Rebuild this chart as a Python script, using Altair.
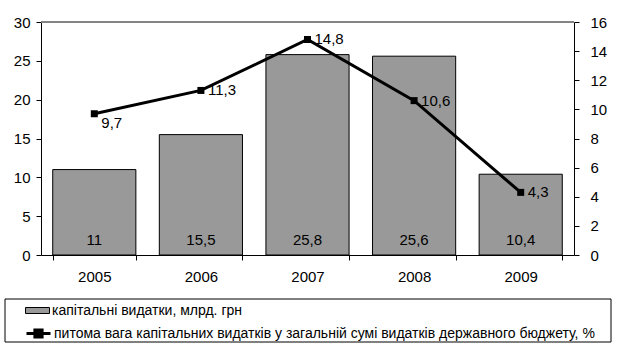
import altair as alt
import pandas as pd

years = ["2005", "2006", "2007", "2008", "2009"]
capital = [11, 15.5, 25.8, 25.6, 10.4]
share = [9.7, 11.3, 14.8, 10.6, 4.3]
series_bar = "капітальні видатки, млрд. грн"
series_line = "питома вага капітальних видатків у загальній сумі видатків державного бюджету, %"

df = pd.DataFrame({"year": years, "capital": capital, "share": share,
                   "s1": series_bar, "s2": series_line})

FONT = "Liberation Sans"
x_enc = alt.X("year:N", title=None, sort=years,
              scale=alt.Scale(paddingInner=0.22, paddingOuter=0.11),
              axis=alt.Axis(labelAngle=0, tickBand="extent", domainColor="black",
                            tickColor="black", tickSize=5, labelPadding=9,
                            labelFontSize=15, labelFont=FONT, labelColor="black"))

yl_axis = alt.Axis(values=[0, 5, 10, 15, 20, 25, 30], grid=False, labelOverlap=False,
                   domainColor="black", tickColor="black", tickSize=5,
                   labelPadding=6, labelFontSize=15, labelFont=FONT,
                   labelColor="black", title=None)
yr_axis = alt.Axis(orient="right", values=list(range(0, 17, 2)), grid=False,
                   labelOverlap=False, domainColor="black", tickColor="black",
                   tickSize=5, labelPadding=11, labelFontSize=15, labelFont=FONT,
                   labelColor="black", title=None)
yl = alt.Scale(domain=[0, 30], nice=False)
yr = alt.Scale(domain=[0, 16], nice=False)


def y_left(field="capital:Q"):
    return alt.Y(field, scale=yl, axis=yl_axis, title=None)


def y_right():
    return alt.Y("share:Q", scale=yr, axis=yr_axis, title=None)


base = alt.Chart(df)

bars = base.mark_bar(stroke="black", strokeWidth=1).encode(
    x=x_enc,
    y=y_left(),
    fill=alt.Fill("s1:N", title=None,
                  scale=alt.Scale(range=["#999999"]),
                  legend=alt.Legend(orient="none", legendX=-16, legendY=276,
                                    symbolType="M-1,-0.25H1V0.25H-1Z",
                                    symbolSize=576, symbolStrokeColor="black",
                                    symbolStrokeWidth=1, labelFontSize=14,
                                    labelFont=FONT, labelColor="black",
                                    labelLimit=700, labelOffset=2, padding=0)),
)

bar_text = base.mark_text(font=FONT, fontSize=15, color="black", dy=-15,
                          baseline="middle").transform_calculate(
    zero="0", lab="replace(toString(datum.capital), '.', ',')"
).encode(x=x_enc, y=y_left("zero:Q"), text="lab:N")

top_rule = base.mark_rule(color="#808080", strokeWidth=1).transform_calculate(
    top="30").encode(y=y_left("top:Q"))

frame = alt.Chart(alt.Data(values=[{"a": 1}])).mark_rect(
    fill="transparent", stroke="black", strokeWidth=1).encode(
    x=alt.value(-36), x2=alt.value(570), y=alt.value(277), y2=alt.value(320))

left = alt.layer(bars, bar_text, top_rule, frame)

line = base.mark_line(strokeWidth=3).encode(
    x=x_enc,
    y=y_right(),
    stroke=alt.Stroke("s2:N", title=None,
                      scale=alt.Scale(range=["black"]),
                      legend=alt.Legend(orient="none", legendX=-16, legendY=298,
                                        symbolType="M-1,0H1M-0.3,-0.3H0.3V0.3H-0.3ZM-0.15,-0.15H0.15V0.15H-0.15Z",
                                        symbolSize=576, symbolStrokeWidth=3,
                                        labelFontSize=14, labelFont=FONT,
                                        labelColor="black", labelLimit=700,
                                        labelOffset=2, padding=0)),
)

pts = base.mark_square(size=49, color="black", opacity=1, filled=True).encode(
    x=x_enc, y=y_right())

lab_expr = "replace(toString(datum.share), '.', ',')"
line_text_first = base.mark_text(font=FONT, fontSize=15, color="black", align="left",
                                 baseline="middle", dx=7, dy=9).transform_filter(
    alt.datum.year == "2005").transform_calculate(lab=lab_expr).encode(
    x=x_enc, y=y_right(), text="lab:N")
line_text_rest = base.mark_text(font=FONT, fontSize=15, color="black", align="left",
                                baseline="middle", dx=7, dy=0).transform_filter(
    alt.datum.year != "2005").transform_calculate(lab=lab_expr).encode(
    x=x_enc, y=y_right(), text="lab:N")

right = alt.layer(line, pts, line_text_first, line_text_rest)

chart = alt.layer(left, right).resolve_scale(y="independent").properties(
    width=533, height=233,
    autosize=alt.AutoSizeParams(type="none"),
    padding={"left": 41, "top": 22, "right": 44, "bottom": 98},
    background="white",
).configure_view(stroke=None)

chart.save("out.html", embed_options={"renderer": "svg", "actions": False})
